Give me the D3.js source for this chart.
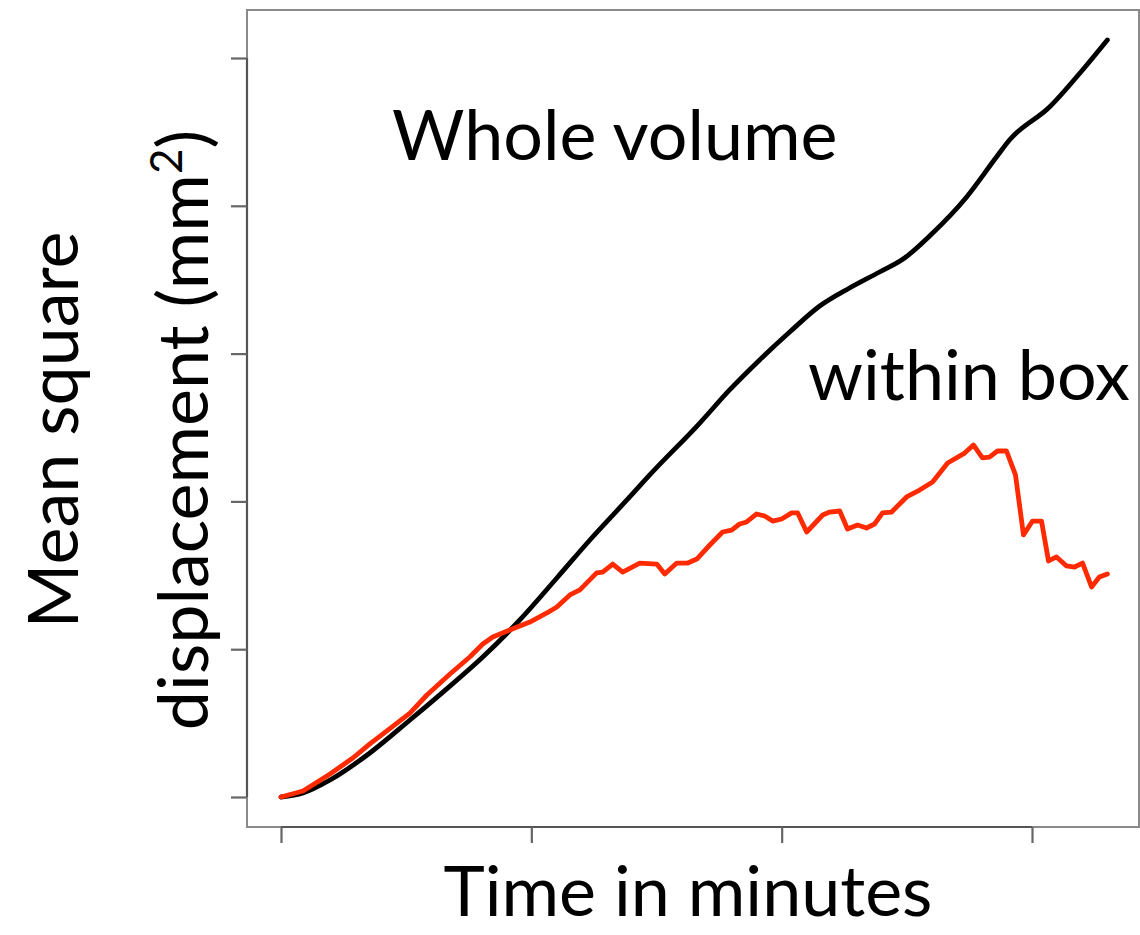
<!DOCTYPE html>
<html>
<head>
<meta charset="utf-8">
<script src="https://cdn.jsdelivr.net/npm/d3@7"></script>
<style>
  html, body { margin: 0; padding: 0; background: #fff; }
  svg { display: block; }
  text { font-family: "Lato", "Open Sans", sans-serif; fill: #000; }
</style>
</head>
<body>
<svg id="chart" width="1140" height="935"></svg>
<script>
// Time in minutes for the whole-volume track
const wholeTime = [0, 0.88, 1.96, 3.55, 5.15, 6.47, 8.06, 9.54, 11.02, 12.34, 13.93, 14.73,
  16.73, 17.92, 19.12, 20.32, 21.52, 22.71, 23.91, 24.91, 25.91, 27.39, 28.58, 29.10,
  30.70, 32.02, 33.01];
// Mean square displacement (mm^2), whole volume
const wholeMSD = [0, 0.027, 0.115, 0.298, 0.521, 0.710, 0.947, 1.198, 1.482, 1.739, 2.030, 2.179,
  2.530, 2.754, 2.957, 3.146, 3.322, 3.444, 3.552, 3.647, 3.796, 4.060, 4.330, 4.445,
  4.668, 4.919, 5.122];

// Time in minutes for the within-box track
const boxTime = [0, 0.88, 1.96, 2.87, 3.55, 4.23, 5.15, 5.83, 6.75, 7.54, 8.06, 8.46, 9.14, 9.94,
  10.62, 11.02, 11.54, 11.94, 12.61, 12.85, 13.25, 13.65, 14.33, 15.01, 15.33, 15.81, 16.25,
  16.61, 17.13, 17.64, 18.00, 18.32, 18.60, 19.00, 19.32, 19.64, 20.00, 20.40, 20.64, 21.00,
  21.64, 21.92, 22.32, 22.63, 23.03, 23.39, 23.71, 24.03, 24.39, 24.99, 25.51, 26.03, 26.63,
  27.31, 27.66, 28.02, 28.30, 28.62, 28.98, 29.34, 29.66, 30.02, 30.38, 30.66, 30.98, 31.38,
  31.70, 32.02, 32.38, 32.69, 33.01];
// Mean square displacement (mm^2), within box
const boxMSD = [0, 0.041, 0.156, 0.264, 0.359, 0.447, 0.568, 0.690, 0.832, 0.947, 1.035, 1.083,
  1.130, 1.184, 1.245, 1.286, 1.367, 1.401, 1.516, 1.522, 1.576, 1.522, 1.583, 1.576, 1.509,
  1.583, 1.583, 1.610, 1.705, 1.793, 1.806, 1.847, 1.861, 1.915, 1.901, 1.867, 1.881, 1.922,
  1.922, 1.793, 1.908, 1.928, 1.935, 1.813, 1.840, 1.820, 1.847, 1.922, 1.928, 2.030, 2.077,
  2.131, 2.260, 2.327, 2.382, 2.294, 2.300, 2.341, 2.341, 2.179, 1.773, 1.867, 1.867, 1.597,
  1.624, 1.563, 1.556, 1.583, 1.421, 1.488, 1.509];

// Axis tick positions (unlabelled)
const xTicks = [0, 10, 20, 30];
const yTicks = [0, 1, 2, 3, 4, 5];

const svg = d3.select("#chart");

// Plot frame
const frame = { left: 247, right: 1139, top: 10, bottom: 827 };

const x = d3.scaleLinear().domain([0, 30]).range([281, 1032]);
const y = d3.scaleLinear().domain([0, 5]).range([797, 58]);

svg.append("rect")
  .attr("x", frame.left).attr("y", frame.top)
  .attr("width", frame.right - frame.left).attr("height", frame.bottom - frame.top)
  .attr("fill", "none").attr("stroke", "#8a8a8a").attr("stroke-width", 2);

const xAxis = svg.append("g")
  .attr("transform", `translate(0,${frame.bottom})`)
  .call(d3.axisBottom(x).tickValues(xTicks).tickFormat("").tickSize(16).tickSizeOuter(0));
const yAxis = svg.append("g")
  .attr("transform", `translate(${frame.left},0)`)
  .call(d3.axisLeft(y).tickValues(yTicks).tickFormat("").tickSize(16).tickSizeOuter(0));

[xAxis, yAxis].forEach(g => {
  g.select(".domain").attr("stroke", "#555").attr("stroke-width", 2.2);
  g.selectAll(".tick line").attr("stroke", "#666").attr("stroke-width", 2.2);
});
// R-style axis lines span first to last tick only
xAxis.select(".domain").attr("d", `M${x(xTicks[0])},0H${x(xTicks[xTicks.length - 1])}`);
yAxis.select(".domain").attr("d", `M0,${y(yTicks[0])}V${y(yTicks[yTicks.length - 1])}`);

const line = d3.line()
  .x(d => x(d[0]))
  .y(d => y(d[1]));

svg.append("path")
  .datum(d3.zip(wholeTime, wholeMSD))
  .attr("fill", "none")
  .attr("stroke", "#000")
  .attr("stroke-width", 4.8)
  .attr("stroke-linejoin", "round")
  .attr("stroke-linecap", "round")
  .attr("d", line.curve(d3.curveMonotoneX));

svg.append("path")
  .datum(d3.zip(boxTime, boxMSD))
  .attr("fill", "none")
  .attr("stroke", "#ff2a00")
  .attr("stroke-width", 4.8)
  .attr("stroke-linejoin", "round")
  .attr("stroke-linecap", "round")
  .attr("d", line.curve(d3.curveLinear));

// Series labels
svg.append("text")
  .attr("x", 392).attr("y", 160)
  .attr("font-size", 70)
  .text("Whole volume");

svg.append("text")
  .attr("x", 808).attr("y", 400)
  .attr("font-size", 70)
  .text("within box");

// Axis titles
svg.append("text")
  .attr("x", 688).attr("y", 916)
  .attr("text-anchor", "middle")
  .attr("font-size", 70)
  .text("Time in minutes");

const yTitle = svg.append("g")
  .attr("transform", "translate(0,430) rotate(-90)");
yTitle.append("text")
  .attr("x", 0).attr("y", 78)
  .attr("text-anchor", "middle")
  .attr("font-size", 70)
  .text("Mean square");
const disp = yTitle.append("text")
  .attr("x", 0).attr("y", 208)
  .attr("text-anchor", "middle")
  .attr("font-size", 70);
disp.append("tspan").text("displacement (mm");
disp.append("tspan").attr("dy", -26).attr("font-size", 44).text("2");
disp.append("tspan").attr("dy", 26).text(")");
</script>
</body>
</html>
